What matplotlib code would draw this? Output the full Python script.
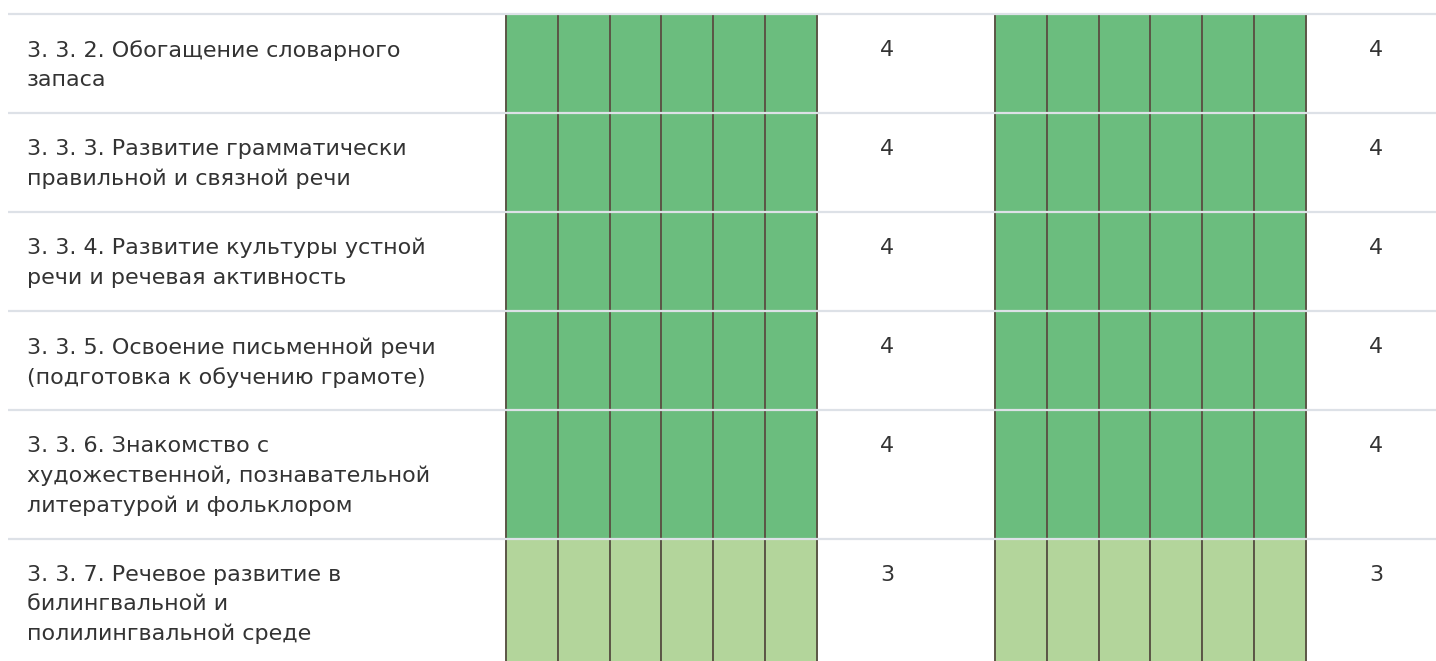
import matplotlib
matplotlib.use('Agg')
import matplotlib.pyplot as plt
import numpy as np

# row labels, one entry per row (line breaks as in the original table)
labels = [
    '3. 3. 2. Обогащение словарного\nзапаса',
    '3. 3. 3. Развитие грамматически\nправильной и связной речи',
    '3. 3. 4. Развитие культуры устной\nречи и речевая активность',
    '3. 3. 5. Освоение письменной речи\n(подготовка к обучению грамоте)',
    '3. 3. 6. Знакомство с\nхудожественной, познавательной\nлитературой и фольклором',
    '3. 3. 7. Речевое развитие в\nбилингвальной и\nполилингвальной среде',
]
scores_a = [4, 4, 4, 4, 4, 3]
scores_b = [4, 4, 4, 4, 4, 3]
n_cells = 6

level_colors = {4: '#6bbd7e', 3: '#b3d59b'}

W, H = 1436, 661
fig = plt.figure(figsize=(W / 100, H / 100), dpi=100)
ax = fig.add_axes([0, 0, 1, 1])
ax.set_xlim(0, W)
ax.set_ylim(H, 0)
ax.axis('off')

# layout in pixels
top = 14
line_h = 30
pad = 39
cell_w = 51.8
groups = [(506, scores_a, 887), (995, scores_b, 1376)]

y = top
for i, lab in enumerate(labels):
    nlines = lab.count('\n') + 1
    h = pad + nlines * line_h
    ax.text(27, y + 26, lab, ha='left', va='top', fontsize=16,
            color='#333333', linespacing=1.57)
    for x0, scores, xnum in groups:
        col = level_colors[scores[i]]
        ax.bar(x0 + cell_w * (np.arange(n_cells) + 0.5), h, width=cell_w,
               bottom=y, color=col, edgecolor='#5b5646', linewidth=1.4,
               zorder=2)
        ax.text(xnum, y + 36, str(scores[i]), ha='center', va='center',
                fontsize=16, color='#333333')
    ax.plot([8, W], [y, y], color='#dde1e7', linewidth=1.6, zorder=3,
            solid_capstyle='butt')
    y += h

fig.savefig('out.png', dpi=100)
